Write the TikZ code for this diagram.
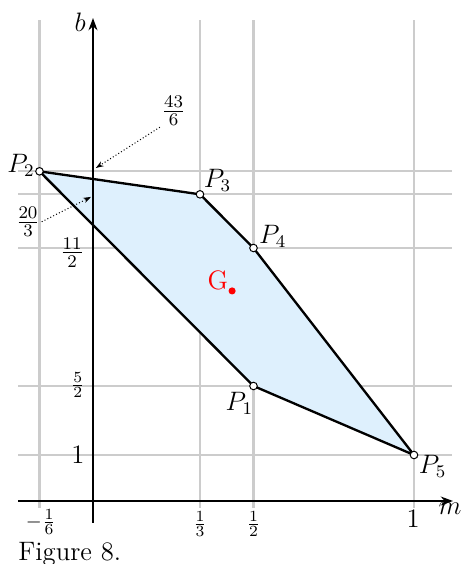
\documentclass[tikz,border=0pt]{standalone}
\usetikzlibrary{arrows.meta}
\definecolor{gridgray}{RGB}{204,204,204}
\definecolor{regionblue}{RGB}{222,240,253}
\begin{document}
\begin{tikzpicture}[x=144.45pt,y=20.7pt,
  gridline/.style={draw=gridgray,line width=0.95pt},
  axisline/.style={draw=black,line width=1.25pt,-{Stealth[length=5.5pt,width=4pt]}},
  edgeline/.style={draw=black,line width=1.05pt},
  vertexpt/.style={circle,draw=black,fill=white,inner sep=0pt,minimum size=3.4pt,line width=0.45pt},
  ptlabel/.style={inner sep=1pt,font=\fontsize{12}{14}\selectfont},
  midfrac/.style={inner sep=0.5pt,font=\fontsize{11}{13}\selectfont},
  smallfrac/.style={inner sep=0.5pt,font=\fontsize{9.5}{11}\selectfont},
  pointer/.style={densely dotted,line width=0.45pt,-{Stealth[length=3.5pt,width=2.5pt]}}]
\useasboundingbox (-0.2897,-1.3696) rectangle (1.1558,10.891);
% grid
\foreach \yy in {1,2.5,5.5,6.6667,7.1667}
  \draw[gridline] (-0.2336,\yy) -- (1.1184,\yy);
\foreach \xx in {-0.16667,0.33333,0.5,1}
  \draw[gridline] (\xx,-0.152) -- (\xx,10.457);
% points
\coordinate (P1) at (0.5,2.5);
\coordinate (P2) at (-0.16667,7.16667);
\coordinate (P3) at (0.33333,6.66667);
\coordinate (P4) at (0.5,5.5);
\coordinate (P5) at (1,1);
% region
\fill[regionblue] (P2) -- (P3) -- (P4) -- (P5) -- (P1) -- cycle;
% axes
\coordinate (mstart) at (-0.2336,0);
\coordinate (mend) at (1.1215,0);
\coordinate (bstart) at (0,-0.478);
\coordinate (bend) at (0,10.50);
\draw[axisline] (mstart) -- (mend);
\draw[axisline] (bstart) -- (bend);
% edges
\draw[edgeline] (P2) -- (P3) -- (P4) -- (P5) -- (P1) -- cycle;
% vertices
\foreach \p in {P1,P2,P3,P4,P5}
  \node[vertexpt] (v\p) at (\p) {};
% vertex labels
\node[ptlabel] (lP2) at (-0.224,7.3) {$P_2$};
\node[ptlabel] (lP3) at (0.388,6.98) {$P_3$};
\node[ptlabel] (lP4) at (0.56,5.76) {$P_4$};
\node[ptlabel] (lP1) at (0.456,2.12) {$P_1$};
\node[ptlabel] (lP5) at (1.058,0.76) {$P_5$};
% centroid
\fill[red] (0.43333,4.56667) circle (1.6pt) coordinate (G);
\node[ptlabel,text=red] (lG) at (0.389,4.8) {G};
% axis labels
\node[ptlabel] (lb) at (-0.04,10.4) {$b$};
\node[ptlabel] (lm) at (1.112,-0.17) {$m$};
% x ticks
\node[smallfrac] (xt1) at (-0.162,-0.46) {$-\frac{1}{6}$};
\node[smallfrac] (xt2) at (0.33333,-0.5) {$\frac{1}{3}$};
\node[smallfrac] (xt3) at (0.5,-0.5) {$\frac{1}{2}$};
\node[ptlabel] (xt4) at (0.997,-0.38) {$1$};
% y ticks
\node[ptlabel] (yt1) at (-0.047,1) {$1$};
\node[smallfrac] (yt2) at (-0.047,2.52) {$\frac{5}{2}$};
\node[midfrac] (yt3) at (-0.065,5.4) {$\frac{11}{2}$};
\node[midfrac] (yt4) at (-0.2025,6.07) {$\frac{20}{3}$};
\node[midfrac] (yt5) at (0.251,8.48) {$\frac{43}{6}$};
% pointers
\coordinate (t203) at (-0.0062,6.61);
\coordinate (t436) at (0.009,7.24);
\draw[pointer] (yt4.east) -- (t203);
\draw[pointer] (yt5.south west) -- (t436);
% caption
\node[anchor=base west,inner sep=0pt,font=\fontsize{12}{14}\selectfont] (cap) at (-0.2336,-1.304) {Figure 8.};
\end{tikzpicture}
\end{document}
